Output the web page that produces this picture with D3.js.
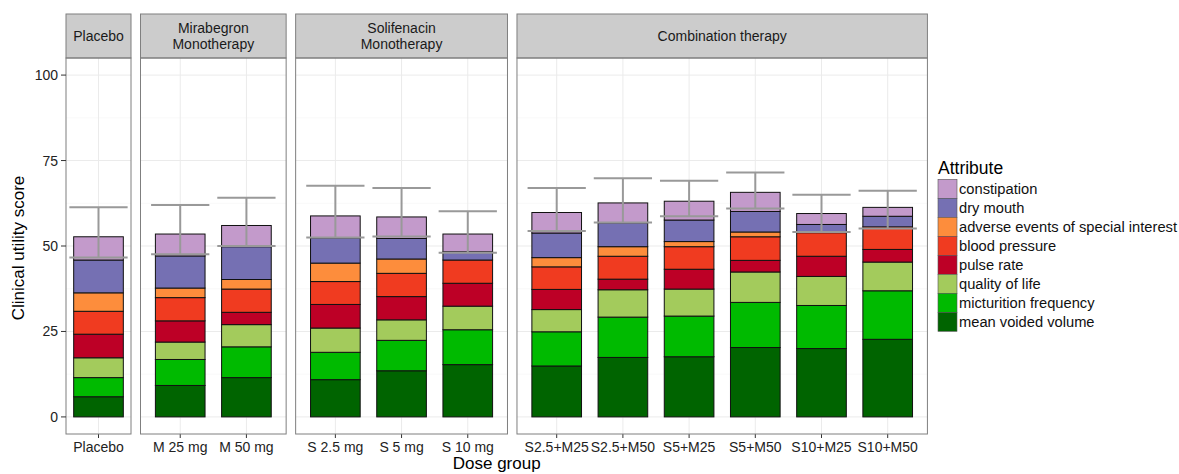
<!DOCTYPE html>
<html>
<head>
<meta charset="utf-8">
<script src="https://cdn.jsdelivr.net/npm/d3@7"></script>
<style>
  body { margin: 0; background: #fff; }
  svg { display: block; font-family: "Liberation Sans", Arial, sans-serif; }
</style>
</head>
<body>
<div id="chart"></div>
<script>
// Dose groups per facet
const facets = ['Placebo', 'Mirabegron\nMonotherapy', 'Solifenacin\nMonotherapy', 'Combination therapy'];
const facetDoses = [
  ['Placebo'],
  ['M 25 mg', 'M 50 mg'],
  ['S 2.5 mg', 'S 5 mg', 'S 10 mg'],
  ['S2.5+M25', 'S2.5+M50', 'S5+M25', 'S5+M50', 'S10+M25', 'S10+M50']
];
const doses = facetDoses.flat();

// Attributes, bottom of the stack first
const attributes = ['mean voided volume', 'micturition frequency', 'quality of life', 'pulse rate',
  'blood pressure', 'adverse events of special interest', 'dry mouth', 'constipation'];
const colors = ['#006400', '#00BA00', '#A3CB5C', '#BD0026', '#F03B20', '#FD8D3C', '#7570B3', '#C39ACB'];

// Segment heights per attribute, one value per dose group (same order as doses)
const meanVoidedVolume   = [5.9, 9.2, 11.5, 10.9, 13.5, 15.3, 14.9, 17.4, 17.6, 20.3, 20.0, 22.7];
const micturitionFreq    = [5.6, 7.6, 9.0, 8.0, 8.9, 10.2, 10.0, 11.8, 11.9, 13.2, 12.6, 14.2];
const qualityOfLife      = [5.8, 5.1, 6.5, 7.1, 6.0, 6.9, 6.5, 8.0, 7.9, 8.9, 8.5, 8.4];
const pulseRate          = [6.9, 6.2, 3.6, 6.9, 6.8, 6.7, 5.9, 3.1, 5.8, 3.4, 5.9, 3.7];
const bloodPressure      = [6.7, 6.8, 6.8, 6.7, 6.8, 6.8, 6.6, 6.7, 6.6, 6.9, 6.9, 6.6];
const adverseEvents      = [5.4, 2.8, 2.8, 5.4, 4.2, 0.0, 2.7, 2.8, 1.5, 1.4, 0.0, 0.0];
const dryMouth           = [9.6, 9.4, 9.6, 7.4, 6.0, 2.4, 7.2, 7.0, 6.3, 6.0, 2.4, 3.1];
const constipation       = [6.8, 6.4, 6.2, 6.4, 6.3, 5.2, 6.0, 5.8, 5.5, 5.6, 3.2, 2.6];
const seriesValues = [meanVoidedVolume, micturitionFreq, qualityOfLife, pulseRate,
  bloodPressure, adverseEvents, dryMouth, constipation];

// Uncertainty interval per dose group
const errLow  = [46.6, 47.6, 50.0, 52.5, 52.8, 48.0, 54.4, 56.9, 58.7, 61.0, 54.1, 55.1];
const errHigh = [61.3, 62.0, 64.1, 67.6, 67.0, 60.2, 67.0, 69.8, 69.1, 71.5, 65.0, 66.2];

const yTicks = [0, 25, 50, 75, 100];
const yMinor = [12.5, 37.5, 62.5, 87.5];

const width = 1179, height = 474;
const plotTop = 58, plotBottom = 434, stripTop = 14;
const unit = 66.2, gap = 9.5, firstLeft = 66;

const svg = d3.select('#chart').append('svg')
  .attr('width', width).attr('height', height);

const y = d3.scaleLinear().domain([-5, 105]).range([plotBottom, plotTop]);

// table of rows for stacking
const table = doses.map((d, i) => {
  const row = { dose: d, lo: errLow[i], hi: errHigh[i] };
  attributes.forEach((a, j) => { row[a] = seriesValues[j][i]; });
  return row;
});
const stacked = d3.stack().keys(attributes)(table);
const color = d3.scaleOrdinal().domain(attributes).range(colors);

// panel layout
let left = firstLeft;
const panels = facetDoses.map((cats, k) => {
  const w = cats.length === 1 ? 65 : (cats.length - 1 + 1.2) * unit;
  const x = d3.scalePoint().domain(cats).range([left, left + w]).padding(0.6);
  const p = { name: facets[k], cats, x0: left, x1: left + w, x };
  left += w + gap;
  return p;
});
const xOf = {};
panels.forEach(p => p.cats.forEach(c => { xOf[c] = p.x; }));
const step = unit;
const barW = 0.75 * step, capW = 0.88 * step;

panels.forEach(p => {
  const g = svg.append('g');
  // panel background + grid
  g.append('rect').attr('x', p.x0).attr('y', plotTop).attr('width', p.x1 - p.x0)
    .attr('height', plotBottom - plotTop).attr('fill', '#fff');
  g.selectAll('.minor').data(yMinor).enter().append('line')
    .attr('x1', p.x0).attr('x2', p.x1).attr('y1', d => y(d)).attr('y2', d => y(d))
    .attr('stroke', '#f7f7f7').attr('stroke-width', 0.8);
  g.selectAll('.major').data(yTicks).enter().append('line')
    .attr('x1', p.x0).attr('x2', p.x1).attr('y1', d => y(d)).attr('y2', d => y(d))
    .attr('stroke', '#ebebeb').attr('stroke-width', 1);
  g.selectAll('.vgrid').data(p.cats).enter().append('line')
    .attr('x1', d => p.x(d)).attr('x2', d => p.x(d)).attr('y1', plotTop).attr('y2', plotBottom)
    .attr('stroke', '#ebebeb').attr('stroke-width', 1);

  // strip
  g.append('rect').attr('x', p.x0).attr('y', stripTop).attr('width', p.x1 - p.x0)
    .attr('height', plotTop - stripTop).attr('fill', '#cccccc')
    .attr('stroke', '#7f7f7f').attr('stroke-width', 1);
  const lines = p.name.split('\n');
  const cy = (stripTop + plotTop) / 2;
  lines.forEach((t, i) => {
    g.append('text').attr('x', (p.x0 + p.x1) / 2)
      .attr('y', cy + (i - (lines.length - 1) / 2) * 16 + 5)
      .attr('text-anchor', 'middle').attr('font-size', '14px').attr('fill', '#1a1a1a')
      .text(t);
  });

  // x axis ticks & labels
  g.selectAll('.xt').data(p.cats).enter().append('line')
    .attr('x1', d => p.x(d)).attr('x2', d => p.x(d)).attr('y1', plotBottom).attr('y2', plotBottom + 4)
    .attr('stroke', '#333').attr('stroke-width', 1);
  g.selectAll('.xl').data(p.cats).enter().append('text')
    .attr('x', d => p.x(d)).attr('y', plotBottom + 18)
    .attr('text-anchor', 'middle').attr('font-size', '14px').attr('fill', '#222')
    .text(d => d);
});

// bars
stacked.forEach(layer => {
  svg.append('g').selectAll('rect').data(layer.filter(d => d[1] - d[0] > 0)).enter().append('rect')
    .attr('x', d => xOf[d.data.dose](d.data.dose) - barW / 2)
    .attr('width', barW)
    .attr('y', d => y(d[1]))
    .attr('height', d => y(d[0]) - y(d[1]))
    .attr('fill', color(layer.key))
    .attr('stroke', '#111').attr('stroke-width', 1);
});

// error bars
const eb = svg.append('g').attr('stroke', '#999').attr('stroke-width', 2).attr('fill', 'none');
table.forEach(r => {
  const cx = xOf[r.dose](r.dose);
  eb.append('line').attr('x1', cx).attr('x2', cx).attr('y1', y(r.lo)).attr('y2', y(r.hi));
  eb.append('line').attr('x1', cx - capW / 2).attr('x2', cx + capW / 2).attr('y1', y(r.lo)).attr('y2', y(r.lo));
  eb.append('line').attr('x1', cx - capW / 2).attr('x2', cx + capW / 2).attr('y1', y(r.hi)).attr('y2', y(r.hi));
});

// panel borders on top
panels.forEach(p => {
  svg.append('rect').attr('x', p.x0).attr('y', plotTop).attr('width', p.x1 - p.x0)
    .attr('height', plotBottom - plotTop).attr('fill', 'none')
    .attr('stroke', '#7f7f7f').attr('stroke-width', 1);
});

// y axis
const yAxis = svg.append('g');
yAxis.selectAll('line').data(yTicks).enter().append('line')
  .attr('x1', firstLeft - 5).attr('x2', firstLeft).attr('y1', d => y(d)).attr('y2', d => y(d))
  .attr('stroke', '#333');
yAxis.selectAll('text').data(yTicks).enter().append('text')
  .attr('x', firstLeft - 8).attr('y', d => y(d) + 5)
  .attr('text-anchor', 'end').attr('font-size', '14px').attr('fill', '#222')
  .text(d => d);

svg.append('text')
  .attr('transform', `translate(24,${(plotTop + plotBottom) / 2 + 2}) rotate(-90)`)
  .attr('text-anchor', 'middle').attr('font-size', '17px').attr('fill', '#000')
  .text('Clinical utility score');

svg.append('text')
  .attr('x', (panels[0].x0 + panels[3].x1) / 2).attr('y', 469)
  .attr('text-anchor', 'middle').attr('font-size', '17px').attr('fill', '#000')
  .text('Dose group');

// legend
const legX = 938, legY = 179.3, keyH = 19;
const legend = svg.append('g');
legend.append('text').attr('x', legX).attr('y', 174)
  .attr('font-size', '17.5px').attr('fill', '#000').text('Attribute');
const legItems = attributes.slice().reverse();
legItems.forEach((a, i) => {
  legend.append('rect').attr('x', legX).attr('y', legY + i * keyH)
    .attr('width', 19).attr('height', keyH)
    .attr('fill', color(a)).attr('stroke', '#555').attr('stroke-width', 0.6);
  legend.append('text').attr('x', legX + 21).attr('y', legY + i * keyH + keyH / 2 + 5)
    .attr('font-size', '14.7px').attr('fill', '#111').text(a);
});
</script>
</body>
</html>
